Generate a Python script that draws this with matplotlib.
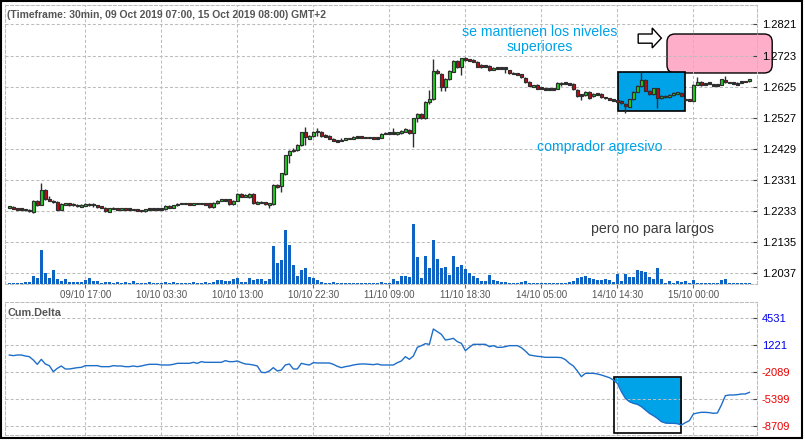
import numpy as np
import matplotlib
matplotlib.use("Agg")
import matplotlib.pyplot as plt
from matplotlib.patches import Rectangle, FancyBboxPatch, Polygon

plt.rcParams['font.family'] = ['Liberation Sans', 'DejaVu Sans']
plt.rcParams['lines.scale_dashes'] = False

# ---------------- data (30 min bars, 09 Oct 07:00 -> 15 Oct 08:00) ----------------
open_ = [1.2244,1.2246,1.2239,1.2238,1.2238,1.2236,1.2228,1.2265,1.2252,1.2299,
         1.2270,1.2265,1.2261,1.2236,1.2254,1.2255,1.2254,1.2252,1.2247,1.2250,
         1.2252,1.2255,1.2250,1.2247,1.2242,1.2231,1.2242,1.2239,1.2238,1.2239,
         1.2238,1.2238,1.2236,1.2235,1.2233,1.2238,1.2238,1.2238,1.2238,1.2238,
         1.2249,1.2243,1.2250,1.2256,1.2256,1.2256,1.2255,1.2256,1.2256,1.2256,
         1.2257,1.2245,1.2257,1.2265,1.2268,1.2270,1.2254,1.2265,1.2287,1.2278,
         1.2276,1.2287,1.2257,1.2260,1.2260,1.2254,1.2255,1.2315,1.2310,1.2349,
         1.2409,1.2423,1.2425,1.2441,1.2481,1.2460,1.2470,1.2483,1.2482,1.2470,
         1.2470,1.2460,1.2454,1.2454,1.2457,1.2462,1.2460,1.2466,1.2466,1.2465,
         1.2465,1.2463,1.2462,1.2464,1.2476,1.2478,1.2478,1.2475,1.2481,1.2483,
         1.2489,1.2478,1.2525,1.2539,1.2525,1.2578,1.2586,1.2675,1.2665,1.2625,
         1.2649,1.2672,1.2707,1.2686,1.2715,1.2710,1.2709,1.2704,1.2694,1.2690,
         1.2690,1.2678,1.2683,1.2683,1.2683,1.2676,1.2667,1.2665,1.2664,1.2653,
         1.2641,1.2627,1.2630,1.2620,1.2617,1.2617,1.2617,1.2618,1.2634,1.2636,
         1.2634,1.2634,1.2615,1.2599,1.2599,1.2609,1.2594,1.2602,1.2602,1.2592,
         1.2589,1.2583,1.2581,1.2581,1.2571,1.2562,1.2585,1.2609,1.2627,1.2646,
         1.2612,1.2602,1.2620,1.2589,1.2596,1.2592,1.2599,1.2604,1.2606,1.2585,
         1.2583,1.2580,1.2630,1.2641,1.2634,1.2636,1.2630,1.2630,1.2630,1.2646,
         1.2638,1.2636,1.2634,1.2639,1.2641,1.2643]
high = [1.2249,1.2247,1.2241,1.2241,1.2239,1.2238,1.2266,1.2268,1.2322,1.2302,
        1.2280,1.2268,1.2265,1.2257,1.2258,1.2258,1.2257,1.2254,1.2254,1.2257,
        1.2258,1.2257,1.2252,1.2249,1.2244,1.2243,1.2244,1.2241,1.2241,1.2241,
        1.2239,1.2239,1.2238,1.2236,1.2239,1.2239,1.2239,1.2239,1.2239,1.2250,
        1.2250,1.2252,1.2258,1.2258,1.2258,1.2258,1.2258,1.2258,1.2258,1.2258,
        1.2258,1.2260,1.2268,1.2271,1.2271,1.2272,1.2266,1.2288,1.2288,1.2287,
        1.2288,1.2288,1.2263,1.2263,1.2261,1.2258,1.2317,1.2318,1.2353,1.2410,
        1.2425,1.2432,1.2444,1.2482,1.2497,1.2471,1.2485,1.2493,1.2484,1.2476,
        1.2473,1.2462,1.2457,1.2462,1.2463,1.2463,1.2468,1.2467,1.2467,1.2467,
        1.2467,1.2465,1.2463,1.2479,1.2481,1.2481,1.2495,1.2482,1.2487,1.2493,
        1.2492,1.2526,1.2542,1.2541,1.2580,1.2615,1.2712,1.2681,1.2668,1.2653,
        1.2678,1.2709,1.2709,1.2716,1.2717,1.2713,1.2711,1.2706,1.2697,1.2694,
        1.2692,1.2687,1.2686,1.2686,1.2688,1.2678,1.2670,1.2667,1.2665,1.2654,
        1.2643,1.2630,1.2632,1.2623,1.2619,1.2619,1.2619,1.2638,1.2638,1.2638,
        1.2637,1.2635,1.2616,1.2602,1.2612,1.2612,1.2604,1.2605,1.2604,1.2593,
        1.2590,1.2586,1.2583,1.2583,1.2574,1.2586,1.2612,1.2631,1.2672,1.2649,
        1.2615,1.2621,1.2621,1.2598,1.2598,1.2601,1.2607,1.2608,1.2608,1.2587,
        1.2585,1.2632,1.2655,1.2643,1.2637,1.2638,1.2634,1.2634,1.2649,1.2657,
        1.2640,1.2638,1.2640,1.2643,1.2643,1.2649]
low = [1.2241,1.2238,1.2236,1.2236,1.2233,1.2228,1.2227,1.2249,1.2250,1.2268,
       1.2263,1.2258,1.2235,1.2235,1.2250,1.2249,1.2249,1.2244,1.2246,1.2247,
       1.2249,1.2246,1.2242,1.2241,1.2228,1.2230,1.2238,1.2236,1.2236,1.2236,
       1.2236,1.2235,1.2233,1.2231,1.2231,1.2236,1.2236,1.2236,1.2236,1.2236,
       1.2241,1.2242,1.2249,1.2254,1.2254,1.2254,1.2254,1.2254,1.2254,1.2252,
       1.2242,1.2242,1.2255,1.2265,1.2265,1.2252,1.2252,1.2263,1.2276,1.2276,
       1.2274,1.2255,1.2255,1.2257,1.2250,1.2242,1.2252,1.2304,1.2294,1.2347,
       1.2385,1.2419,1.2422,1.2438,1.2441,1.2459,1.2466,1.2468,1.2466,1.2466,
       1.2459,1.2452,1.2452,1.2452,1.2456,1.2460,1.2459,1.2464,1.2462,1.2462,
       1.2462,1.2461,1.2461,1.2463,1.2475,1.2475,1.2475,1.2471,1.2476,1.2482,
       1.2476,1.2433,1.2514,1.2523,1.2523,1.2571,1.2583,1.2665,1.2612,1.2612,
       1.2646,1.2671,1.2685,1.2662,1.2706,1.2706,1.2702,1.2687,1.2685,1.2687,
       1.2675,1.2676,1.2681,1.2681,1.2668,1.2665,1.2665,1.2662,1.2653,1.2637,
       1.2626,1.2626,1.2616,1.2618,1.2615,1.2615,1.2615,1.2616,1.2627,1.2634,
       1.2630,1.2615,1.2591,1.2583,1.2596,1.2586,1.2593,1.2599,1.2590,1.2586,
       1.2582,1.2580,1.2577,1.2571,1.2541,1.2561,1.2583,1.2608,1.2624,1.2610,
       1.2599,1.2599,1.2557,1.2586,1.2590,1.2590,1.2596,1.2602,1.2594,1.2580,
       1.2579,1.2579,1.2629,1.2627,1.2630,1.2634,1.2627,1.2627,1.2629,1.2637,
       1.2635,1.2634,1.2632,1.2637,1.2638,1.2641]
close = [1.2246,1.2239,1.2238,1.2238,1.2236,1.2232,1.2265,1.2252,1.2299,1.2270,
         1.2265,1.2261,1.2236,1.2254,1.2255,1.2254,1.2252,1.2247,1.2250,1.2252,
         1.2255,1.2250,1.2247,1.2245,1.2233,1.2242,1.2239,1.2238,1.2239,1.2238,
         1.2238,1.2236,1.2235,1.2233,1.2238,1.2238,1.2238,1.2238,1.2238,1.2249,
         1.2243,1.2250,1.2256,1.2256,1.2256,1.2255,1.2256,1.2256,1.2256,1.2254,
         1.2245,1.2257,1.2265,1.2268,1.2268,1.2254,1.2265,1.2287,1.2278,1.2283,
         1.2287,1.2257,1.2260,1.2260,1.2254,1.2255,1.2315,1.2307,1.2352,1.2409,
         1.2423,1.2425,1.2441,1.2481,1.2466,1.2470,1.2483,1.2484,1.2470,1.2470,
         1.2460,1.2454,1.2454,1.2457,1.2462,1.2461,1.2466,1.2466,1.2465,1.2465,
         1.2463,1.2462,1.2462,1.2476,1.2478,1.2478,1.2478,1.2481,1.2483,1.2492,
         1.2478,1.2525,1.2539,1.2525,1.2578,1.2586,1.2675,1.2667,1.2625,1.2649,
         1.2675,1.2707,1.2688,1.2715,1.2710,1.2709,1.2704,1.2688,1.2688,1.2690,
         1.2678,1.2683,1.2683,1.2683,1.2683,1.2667,1.2667,1.2664,1.2655,1.2638,
         1.2627,1.2628,1.2618,1.2620,1.2617,1.2617,1.2617,1.2637,1.2637,1.2636,
         1.2634,1.2617,1.2594,1.2599,1.2609,1.2589,1.2602,1.2602,1.2592,1.2589,
         1.2583,1.2583,1.2578,1.2573,1.2564,1.2585,1.2609,1.2627,1.2646,1.2612,
         1.2602,1.2620,1.2589,1.2596,1.2592,1.2599,1.2604,1.2606,1.2596,1.2583,
         1.2581,1.2630,1.2641,1.2630,1.2634,1.2636,1.2630,1.2630,1.2648,1.2638,
         1.2638,1.2636,1.2634,1.2639,1.2641,1.2648]
volume = [1,1,1,1,2,2,8,6,34,11,
          6,14,5,3,5,2,2,2,2,4,
          6,3,3,1,2,2,1,2,1,2,
          1,3,1,1,1,2,1,1,1,2,
          1,2,1,1,1,1,2,1,1,2,
          1,2,4,4,3,3,5,6,2,2,
          6,4,5,5,3,5,38,21,24,54,
          39,19,8,14,16,7,6,4,2,1,
          1,2,1,1,1,1,1,1,1,1,
          1,1,1,2,1,1,5,3,8,8,
          7,60,27,6,28,16,44,25,16,17,
          9,28,17,19,15,11,8,6,3,3,
          9,4,3,2,2,1,1,1,2,3,
          1,1,1,1,1,1,1,1,1,1,
          2,3,6,7,8,6,5,4,4,5,
          4,2,10,3,10,7,7,14,13,12,
          7,5,16,5,1,3,1,3,2,3,
          1,4,1,1,1,1,1,1,4,5,
          1,1,1,1,1,1]
cum_delta = [20,-61,20,20,-103,-185,-594,-1127,-512,-1086,
             -1291,-2028,-1619,-1332,-1700,-1700,-1619,-1537,-1496,-1291,
             -1291,-1291,-1291,-1414,-1414,-1414,-1291,-1332,-1332,-1414,
             -1414,-1332,-1414,-1332,-1209,-1127,-1127,-1127,-1209,-1209,
             -1209,-1127,-1004,-1004,-1004,-1004,-881,-1004,-799,-881,
             -881,-881,-881,-881,-676,-799,-799,-717,-922,-1086,
             -1127,-1209,-1332,-2110,-2151,-1946,-1537,-1946,-1823,-1209,
             -1086,-1700,-1700,-1004,-1127,-1209,-922,-963,-963,-963,
             -963,-1127,-1373,-1537,-1414,-1332,-1209,-1127,-1086,-1086,
             -1127,-1168,-1086,-1209,-1209,-1209,-1209,-922,-717,-185,
             -512,-103,963,1168,1413,1331,3216,2888,2560,1864,
             1946,2069,1659,1454,553,963,1331,1331,1331,1331,
             1045,1168,963,963,1045,1168,1168,1168,922,512,
             20,-61,-143,-185,-266,-266,-266,-266,-307,-553,
             -1004,-1332,-1946,-2643,-2233,-2233,-2233,-2315,-2438,-2602,
             -2766,-3052,-3462,-4486,-5306,-5715,-5920,-6043,-6330,-6740,
             -7149,-7436,-7764,-8174,-8337,-8378,-8378,-8419,-8583,-8296,
             -8051,-7231,-7108,-7026,-7026,-7067,-7149,-7108,-6125,-4978,
             -4896,-4896,-4855,-4773,-4773,-4568]

xtick_bars = [19, 38, 57, 76, 95, 114, 133, 152, 171]
xtick_labels = ["09/10 17:00", "10/10 03:30", "10/10 13:00", "10/10 22:30", "11/10 09:00",
                "11/10 18:30", "14/10 05:00", "14/10 14:30", "15/10 00:00"]
price_ticks = [1.2037, 1.2135, 1.2233, 1.2331, 1.2429, 1.2527, 1.2625, 1.2723, 1.2821]
delta_ticks = [4531, 1221, -2089, -5399, -8709]

title = "(Timeframe: 30min, 09 Oct 2019 07:00, 15 Oct 2019 08:00) GMT+2"

# ---------------- figure ----------------
W, H = 805, 440
fig = plt.figure(figsize=(W / 100, H / 100), dpi=100)
fig.patch.set_facecolor('white')

ax = fig.add_axes([5 / W, 1 - 284 / H, 752 / W, 279 / H])
axv = fig.add_axes([5 / W, 1 - 284 / H, 752 / W, 279 / H], sharex=ax)
axd = fig.add_axes([5 / W, 1 - 435 / H, 752 / W, 133 / H], sharex=ax)

o = np.array(open_); hi = np.array(high); lo = np.array(low); c = np.array(close)
idx = np.arange(len(c))

GRIDC = '#BDBDBD'
DASH = (0, (2.2, 1.5))
for a in (ax, axd):
    a.set_facecolor('white')
    a.grid(True, color=GRIDC, linestyle=DASH, linewidth=0.75)
    for s in a.spines.values():
        s.set_color(GRIDC)
        s.set_linestyle(DASH)
        s.set_linewidth(0.75)

ax.set_xlim(-1.075, 186.9)
ax.set_ylim(1.20023, 1.28825)
axd.set_ylim(-9815, 6535)

ax.set_xticks(xtick_bars)
ax.set_xticklabels(xtick_labels)
ax.yaxis.tick_right()
ax.set_yticks(price_ticks)
ax.set_yticklabels([f"{p:.4f}" for p in price_ticks])
ax.tick_params(axis='y', direction='in', length=3, width=0.8, color='#444444',
               labelsize=8, pad=3.5, labelcolor='black')
ax.tick_params(axis='x', direction='out', length=3, width=0.8, color='#666666',
               labelsize=7, labelcolor='#555555', pad=1.5)

axd.yaxis.tick_right()
axd.set_yticks(delta_ticks)
axd.set_yticklabels([str(v) for v in delta_ticks])
axd.tick_params(axis='y', direction='in', length=3, width=0.8, color='#444444',
                labelsize=8, pad=3.5)
axd.tick_params(axis='x', length=0, labelbottom=False)
for t, v in zip(axd.yaxis.get_major_ticks(), delta_ticks):
    col = '#0000EE' if v > 0 else '#EE0000'
    t.label1.set_color(col)
    t.label2.set_color(col)

# ---------------- candles ----------------
GREEN, RED, DARK = '#1ED21E', '#C00A14', '#2E2E2E'
body_low = np.minimum(o, c)
body_h = np.abs(c - o)
small = body_h < 0.0005
body_low = np.where(small, (o + c) / 2 - 0.00025, body_low)
body_h = np.where(small, 0.0005, body_h)
colors = np.where(c > o, GREEN, np.where(c < o, RED, DARK))
ax.vlines(idx, lo, hi, color=DARK, lw=1.0, zorder=3)
ax.bar(idx, body_h, bottom=body_low, width=0.8, color=colors,
       edgecolor=DARK, linewidth=0.85, zorder=4)

# ---------------- volume ----------------
axv.bar(idx, volume, width=0.6, color='#0F64C3', linewidth=0)
axv.set_ylim(0, 279)
axv.axis('off')

# ---------------- annotations top ----------------
ax.add_patch(Rectangle((152.2, 1.2549), 16.7, 0.0122, fc='#00A2E8', ec='black',
                       lw=1.2, zorder=1.6))
ax.add_patch(FancyBboxPatch((164.4, 1.2668), 26.3, 0.0123,
                            boxstyle='round,pad=0,rounding_size=2',
                            mutation_aspect=0.001262, fc='#FFAEC9', ec='black',
                            lw=1.0, zorder=1, clip_on=False))
ax.add_patch(Polygon([(157.2, 1.2762), (160.7, 1.2762), (160.7, 1.2747), (163.0, 1.2778),
                      (160.7, 1.2810), (160.7, 1.2791), (157.2, 1.2791)],
                     closed=True, fc='white', ec='black', lw=1.0, zorder=5))
TXTBLUE = '#00A2E8'
ax.text(132.7, 1.2798, "se mantienen los niveles", color=TXTBLUE, fontsize=10.2,
        ha='center', va='center', zorder=6)
ax.text(132.7, 1.2750, "superiores", color=TXTBLUE, fontsize=10.2,
        ha='center', va='center', zorder=6)
ax.text(147.7, 1.2436, "comprador agresivo", color=TXTBLUE, fontsize=10.2,
        ha='center', va='center', zorder=6)
ax.text(160.7, 1.2176, "pero no para largos", color='#3C3C3C', fontsize=10.2,
        ha='center', va='center', zorder=6)

# ---------------- cumulative delta ----------------
cd = np.array(cum_delta)
box_top, box_bot = -2720, -9529
fill = axd.fill_between(idx, cd, box_top, where=cd < box_top, interpolate=True,
                        color='#00A2E8', linewidth=0, zorder=1)
clip = Rectangle((151.25, box_bot), 16.65, box_top - box_bot, transform=axd.transData)
fill.set_clip_path(clip)
axd.add_patch(Rectangle((151.25, box_bot), 16.65, box_top - box_bot, fill=False,
                        ec='black', lw=1.2, zorder=2.6))
axd.plot(idx, cd, color='#1E6EC8', lw=1.0, zorder=3)

# ---------------- texts ----------------
fig.text(7 / W, 1 - 15 / H, title, fontsize=7.5, fontweight='bold', color='#555555',
         ha='left', va='center')
fig.text(7 / W, 1 - 312.5 / H, "Cum.Delta", fontsize=7.8, fontweight='bold',
         color='#555555', ha='left', va='center')

fig.add_artist(Rectangle((1 / W, 2 / H), 801 / W, 437 / H, transform=fig.transFigure,
                         fill=False, ec='black', lw=1.5))

fig.savefig('out.png', dpi=100)
